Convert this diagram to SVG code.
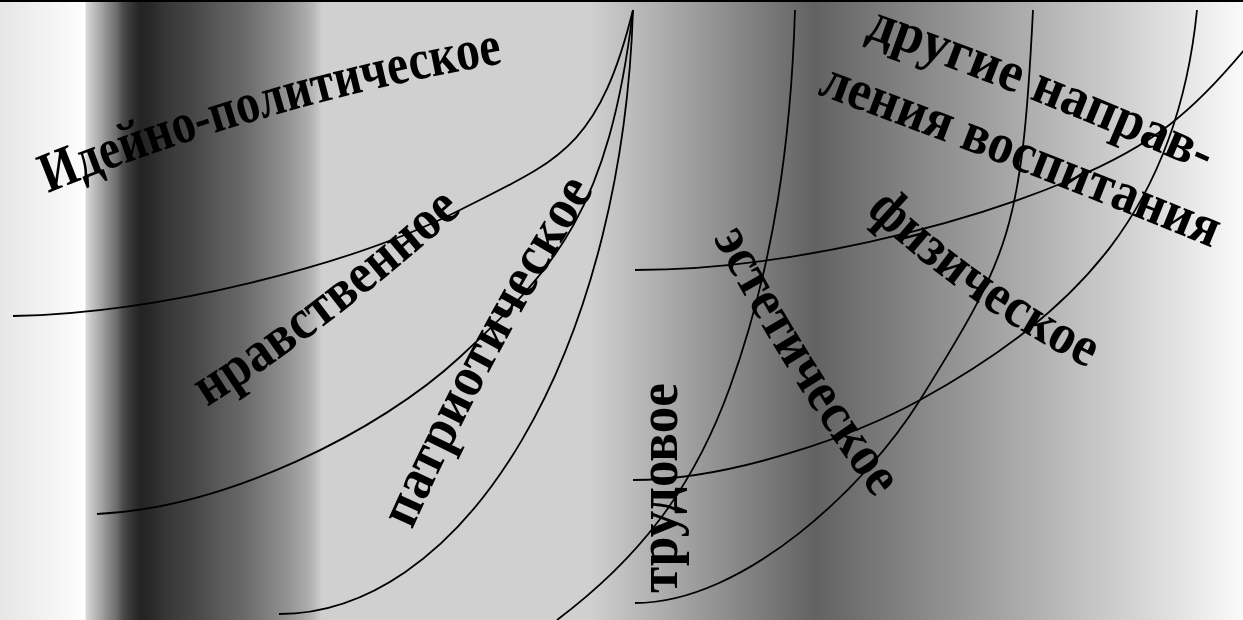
<svg xmlns="http://www.w3.org/2000/svg" xmlns:xlink="http://www.w3.org/1999/xlink" width="1243" height="620" viewBox="0 0 1243 620">
<style>
.lbl{font-family:"Liberation Serif","Times New Roman",serif;font-weight:bold;font-size:57px;fill:#000}
.cv{fill:none;stroke:#000;stroke-width:1.8}
</style>
<defs>
<linearGradient id="bg" gradientUnits="userSpaceOnUse" x1="0" y1="0" x2="1243" y2="0">
<stop offset="0" stop-color="#e6e6e6"/>
<stop offset="0.0644" stop-color="#fcfcfc"/>
<stop offset="0.0684" stop-color="#ffffff"/>
<stop offset="0.0692" stop-color="#dadada"/>
<stop offset="0.0748" stop-color="#c0c0c0"/>
<stop offset="0.0805" stop-color="#a8a8a8"/>
<stop offset="0.0869" stop-color="#8a8a8a"/>
<stop offset="0.0941" stop-color="#6c6c6c"/>
<stop offset="0.0990" stop-color="#4a4a4a"/>
<stop offset="0.1062" stop-color="#333333"/>
<stop offset="0.1126" stop-color="#242424"/>
<stop offset="0.1191" stop-color="#262626"/>
<stop offset="0.1303" stop-color="#333333"/>
<stop offset="0.1408" stop-color="#3c3c3c"/>
<stop offset="0.1529" stop-color="#444444"/>
<stop offset="0.1665" stop-color="#505050"/>
<stop offset="0.1794" stop-color="#5c5c5c"/>
<stop offset="0.1955" stop-color="#686868"/>
<stop offset="0.2092" stop-color="#787878"/>
<stop offset="0.2228" stop-color="#888888"/>
<stop offset="0.2333" stop-color="#969696"/>
<stop offset="0.2438" stop-color="#a6a6a6"/>
<stop offset="0.2510" stop-color="#b4b4b4"/>
<stop offset="0.2558" stop-color="#c4c4c4"/>
<stop offset="0.2590" stop-color="#d0d0d0"/>
<stop offset="0.4747" stop-color="#d0d0d0"/>
<stop offset="0.6557" stop-color="#626262"/>
<stop offset="1" stop-color="#fafafa"/>
</linearGradient>
<path id="p1" d="M48,193 Q270,103 504,63"/>
<path id="p2" d="M207,407 Q330,330 464,210"/>
<path id="p3" d="M412,530 Q493,350 594,190"/>
<path id="p5" d="M713,238 Q785,375 876,500"/>
<path id="p6" d="M866,212 Q961,302 1082,365"/>
<path id="p7a" d="M865,37 Q1030,95 1206,173"/>
<path id="p7b" d="M817,94 Q1010,165 1213,248"/>
</defs>
<rect x="0" y="0" width="1243" height="620" fill="url(#bg)"/>
<rect x="0" y="0" width="1243" height="2" fill="#000"/>
<g id="connectors">
<path class="cv" d="M13,316 C163,313 353.1,264.4 460,210 C558,160.2 598,150 633,10"/>
<path class="cv" d="M97,514 C227,507.5 379.3,431.7 460,357 C555.4,268.7 609,210 633,10"/>
<path class="cv" d="M279,614 A354.6,640.6 0 0 0 633,10"/>
<path class="cv" d="M795,10 C791.1,140 774.1,264.7 730,387 C692.7,490.5 637,560 557,620"/>
<path class="cv" d="M1033,10 C1022,230 1009.8,255.7 920,400 C867.2,484.9 745,603 635,603"/>
<path class="cv" d="M1197,10 C1177,210 1077.5,312.9 920,400 C858.75,433.9 733,480 633,480"/>
<path class="cv" d="M1250,43 C1193.3,112.3 1153.1,145.3 1070,180 C959.2,226.3 785,270 635,270"/>
</g>
<g id="n-ideino"><text class="lbl"><textPath xlink:href="#p1" href="#p1" textLength="474" lengthAdjust="spacingAndGlyphs">Идейно-политическое</textPath></text></g>
<g id="n-nravstv"><text class="lbl"><textPath xlink:href="#p2" href="#p2" textLength="322" lengthAdjust="spacingAndGlyphs">нравственное</textPath></text></g>
<g id="n-patriot"><text class="lbl"><textPath xlink:href="#p3" href="#p3" textLength="386" lengthAdjust="spacingAndGlyphs">патриотическое</textPath></text></g>
<g id="n-trud"><text class="lbl" transform="translate(677,593) rotate(-90)" textLength="210" lengthAdjust="spacingAndGlyphs">трудовое</text></g>
<g id="n-estet"><text class="lbl"><textPath xlink:href="#p5" href="#p5" textLength="307" lengthAdjust="spacingAndGlyphs">эстетическое</textPath></text></g>
<g id="n-fiz"><text class="lbl"><textPath xlink:href="#p6" href="#p6" textLength="272" lengthAdjust="spacingAndGlyphs">физическое</textPath></text></g>
<g id="n-drugie"><text class="lbl"><textPath xlink:href="#p7a" href="#p7a" textLength="366" lengthAdjust="spacingAndGlyphs">другие направ-</textPath></text><text class="lbl"><textPath xlink:href="#p7b" href="#p7b" textLength="424" lengthAdjust="spacingAndGlyphs">ления воспитания</textPath></text></g>
</svg>
